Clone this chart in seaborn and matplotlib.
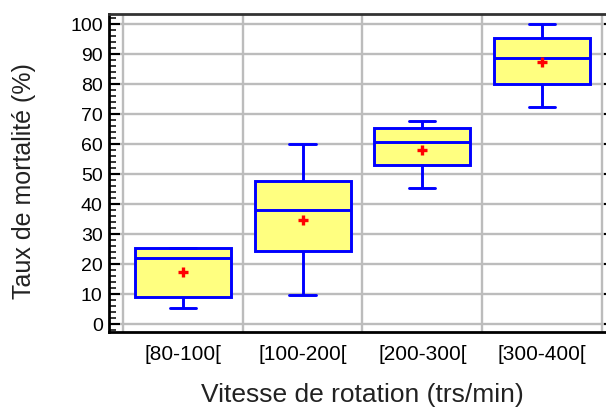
import numpy as np
import pandas as pd
import matplotlib
matplotlib.use("Agg")
import matplotlib.pyplot as plt
import seaborn as sns
from matplotlib.ticker import MultipleLocator, FixedLocator

# ---- data ----
categories = ["[80-100[", "[100-200[", "[200-300[", "[300-400["]
whisker_low = [5.3, 9.7, 45.3, 72.3]
q1 = [9.0, 24.3, 53.0, 80.0]
median = [22.0, 38.0, 60.7, 88.7]
q3 = [25.3, 47.7, 65.3, 95.3]
whisker_high = [25.3, 60.0, 67.7, 100.0]
means = [17.3, 34.7, 58.0, 87.3]
y_ticks = list(range(0, 101, 10))

# five-number table per category (quartiles of 5 sorted values = given stats)
rows = []
for c, a, b, m, d, e in zip(categories, whisker_low, q1, median, q3, whisker_high):
    for v in (a, b, m, d, e):
        rows.append({"cat": c, "val": v})
df = pd.DataFrame(rows)

sns.set_theme(style="white")
plt.rcParams['font.family'] = ['Liberation Sans', 'DejaVu Sans']

fig = plt.figure(figsize=(6.06, 4.10), dpi=100)
ax = fig.add_axes([109 / 606, 1 - 333 / 410, (615 - 109) / 606, (333 - 15) / 410])

box_kws = dict(data=df, x="cat", y="val", order=categories, width=0.8,
               whis=(0, 100), color="#ffff80", saturation=1,
               linecolor="#0000ff", linewidth=2.1, fliersize=0, ax=ax)
try:
    sns.boxplot(capwidths=0.22, **box_kws)
except TypeError:
    ax.cla()
    sns.boxplot(**box_kws)

sns.pointplot(x=categories, y=means, order=categories, color="red",
              marker="+", linestyle="none", markersize=7.5,
              markeredgewidth=2.4, errorbar=None, ax=ax)
for ln in ax.lines[-1:]:
    ln.set_zorder(10)
for coll in ax.collections:
    coll.set_zorder(10)

ax.set_xlim(-0.618, 3.61)
ax.set_ylim(-2.7, 103.3)

ax.set_yticks(y_ticks)
ax.yaxis.set_minor_locator(MultipleLocator(2))
ax.xaxis.set_minor_locator(FixedLocator([-0.5, 0.5, 1.5, 2.5, 3.5]))

ax.set_axisbelow(True)
ax.grid(False)
ax.grid(True, axis="y", which="major", color="#bcbcbc", linewidth=1.7)
ax.grid(True, axis="x", which="minor", color="#bcbcbc", linewidth=1.7)

ax.tick_params(axis="y", which="major", direction="in", length=8, width=1.5,
               left=True, right=True, labelsize=14, pad=4.5, colors="black")
ax.tick_params(axis="y", which="minor", direction="in", length=5, width=1.3,
               left=True, right=True)
ax.tick_params(axis="x", which="both", length=0, labelsize=15, pad=9,
               labelcolor="black")

for side in ("left", "bottom", "top"):
    ax.spines[side].set_visible(True)
    ax.spines[side].set_color("black")
    ax.spines[side].set_linewidth(2)
ax.spines["top"].set_color("#333333")
ax.spines["right"].set_visible(False)

ax.set_xlabel("Vitesse de rotation (trs/min)", fontsize=19, color="#222222")
ax.set_ylabel("Taux de mortalité (%)", fontsize=18, color="#222222")
ax.xaxis.label.set_va("center")
ax.yaxis.label.set_va("center")
ax.xaxis.set_label_coords((362 - 109) / 506, (333 - 395) / 318)
ax.yaxis.set_label_coords((24 - 109) / 506, (333 - 181) / 318)

fig.savefig("out.png", dpi=100)
